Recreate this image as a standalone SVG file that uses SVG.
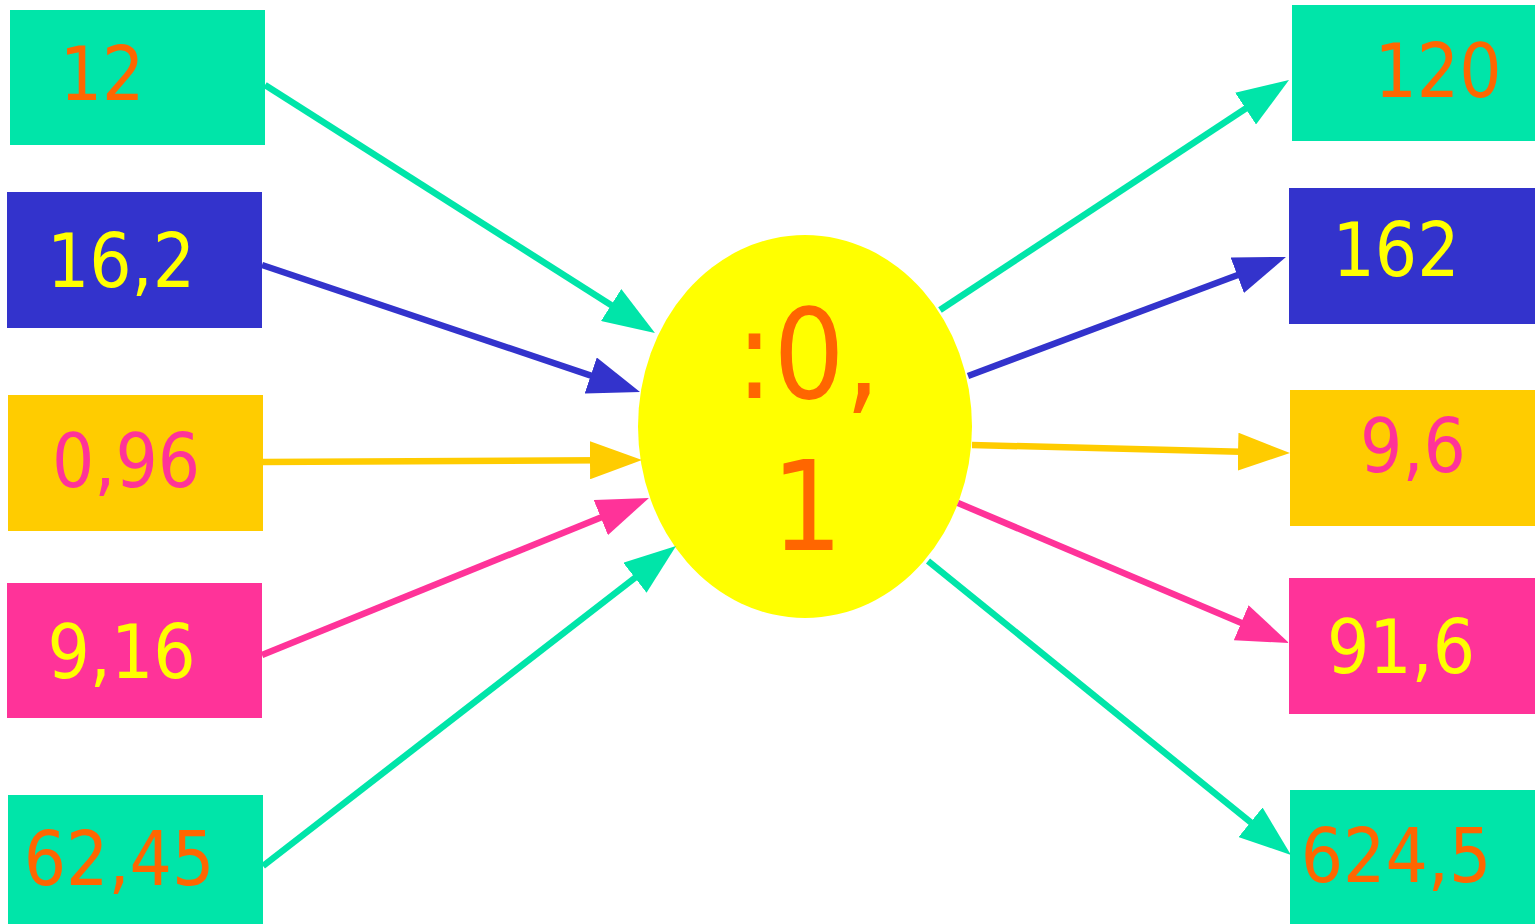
<svg xmlns="http://www.w3.org/2000/svg" width="1535" height="924" viewBox="0 0 1535 924">
<style>
.t{font-family:"DejaVu Sans Condensed","DejaVu Sans",sans-serif;font-size:74px;text-anchor:middle}
.big{font-family:"DejaVu Sans Condensed","DejaVu Sans",sans-serif;font-size:125px;text-anchor:middle;fill:#FF6600}
.o{fill:#FF6600}.y{fill:#FFFF00}.p{fill:#FF3399}
.cg{stroke:#00E5A9}.cb{stroke:#3333CC}.cy{stroke:#FFCC00}.cp{stroke:#FF3399}
#edges line{stroke-width:6.5;fill:none}
</style>
<defs>
<marker id="ag" markerUnits="userSpaceOnUse" markerWidth="52" markerHeight="38" refX="12" refY="19" orient="auto" viewBox="0 0 52 38"><path d="M0,0 L52,19 L0,38 z" fill="#00E5A9"/></marker>
<marker id="ab" markerUnits="userSpaceOnUse" markerWidth="52" markerHeight="38" refX="12" refY="19" orient="auto" viewBox="0 0 52 38"><path d="M0,0 L52,19 L0,38 z" fill="#3333CC"/></marker>
<marker id="ay" markerUnits="userSpaceOnUse" markerWidth="52" markerHeight="38" refX="12" refY="19" orient="auto" viewBox="0 0 52 38"><path d="M0,0 L52,19 L0,38 z" fill="#FFCC00"/></marker>
<marker id="ap" markerUnits="userSpaceOnUse" markerWidth="52" markerHeight="38" refX="12" refY="19" orient="auto" viewBox="0 0 52 38"><path d="M0,0 L52,19 L0,38 z" fill="#FF3399"/></marker>
</defs>
<rect width="1535" height="924" fill="#FFFFFF"/>
<g id="n-12"><rect x="10" y="10" width="255" height="135" fill="#00E5A9"/><text class="t o" x="102" y="100">12</text></g>
<g id="n-16-2"><rect x="7" y="192" width="255" height="136" fill="#3333CC"/><text class="t y" x="121" y="287">16,2</text></g>
<g id="n-0-96"><rect x="8" y="395" width="255" height="136" fill="#FFCC00"/><text class="t p" x="126" y="487">0,96</text></g>
<g id="n-9-16"><rect x="7" y="583" width="255" height="135" fill="#FF3399"/><text class="t y" x="121.5" y="678">9,16</text></g>
<g id="n-62-45"><rect x="8" y="795" width="255" height="129" fill="#00E5A9"/><text class="t o" x="119" y="885">62,45</text></g>
<g id="n-center"><ellipse cx="805" cy="426.5" rx="167" ry="191.5" fill="#FFFF00"/><text class="big" x="808" y="398">:0,</text><text class="big" x="807" y="550">1</text></g>
<g id="n-120"><rect x="1292" y="5" width="243" height="136" fill="#00E5A9"/><text class="t o" x="1438" y="97">120</text></g>
<g id="n-162"><rect x="1289" y="188" width="246" height="136" fill="#3333CC"/><text class="t y" x="1396" y="276">162</text></g>
<g id="n-9-6"><rect x="1290" y="390" width="245" height="136" fill="#FFCC00"/><text class="t p" x="1413" y="472">9,6</text></g>
<g id="n-91-6"><rect x="1289" y="578" width="246" height="136" fill="#FF3399"/><text class="t y" x="1401" y="673">91,6</text></g>
<g id="n-624-5"><rect x="1290" y="790" width="245" height="134" fill="#00E5A9"/><text class="t o" x="1396" y="882">624,5</text></g>
<g id="edges">
<line class="cg" x1="265" y1="85" x2="621.2" y2="311.5" marker-end="url(#ag)"/>
<line class="cb" x1="262" y1="265" x2="602.1" y2="379.3" marker-end="url(#ab)"/>
<line class="cy" x1="263" y1="462" x2="602" y2="460.2" marker-end="url(#ay)"/>
<line class="cp" x1="262" y1="655" x2="611.9" y2="513" marker-end="url(#ap)"/>
<line class="cg" x1="263" y1="866" x2="644.4" y2="570.5" marker-end="url(#ag)"/>
<line class="cg" x1="940" y1="310" x2="1255.6" y2="102" marker-end="url(#ag)"/>
<line class="cb" x1="968" y1="376" x2="1248.5" y2="271" marker-end="url(#ab)"/>
<line class="cy" x1="972" y1="445" x2="1250" y2="452" marker-end="url(#ay)"/>
<line class="cp" x1="958" y1="503" x2="1252.2" y2="627.4" marker-end="url(#ap)"/>
<line class="cg" x1="928" y1="561" x2="1259.9" y2="829.8" marker-end="url(#ag)"/>
</g>
</svg>
